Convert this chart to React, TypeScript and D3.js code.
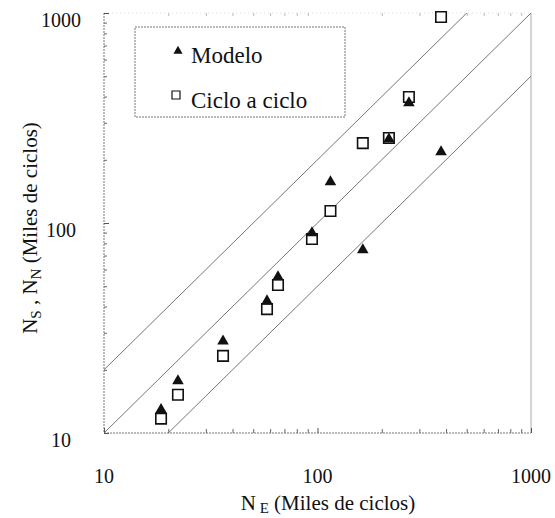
import React, { useEffect, useRef } from 'react';
import * as d3 from 'd3';

// N_E (x) values, thousands of cycles
const neValues = [18.5, 22.2, 36.1, 58, 65.3, 94.2, 115, 163, 216, 268, 379];
// Modelo (triangles)
const modeloValues = [12.9, 17.7, 27.4, 42.5, 55.3, 89.6, 157, 74.4, 251, 373, 218];
// Ciclo a ciclo (squares)
const cicloValues = [11.7, 15.2, 23.3, 38.9, 50.7, 83.9, 114, 240, 254, 398, 957];
// reference lines y = k * x
const lineFactors = [2, 1, 0.5];
const majorTicks = [10, 100, 1000];
const legendLabels = ['Modelo', 'Ciclo a ciclo'];

const left = 104, right = 531, top = 13, bottom = 433;
const x = d3.scaleLog().domain([10, 1000]).range([left, right]);
const y = d3.scaleLog().domain([10, 1000]).range([bottom, top]);

function App() {
  const ref = useRef<SVGGElement>(null);

  useEffect(() => {
    const svg = d3.select(ref.current);
    svg.selectAll('*').remove();

    const minorTicks: number[] = [];
    [10, 100].forEach(d => { for (let i = 2; i <= 9; i++) minorTicks.push(d * i); });

    svg.append('clipPath').attr('id', 'plot-clip')
      .append('rect').attr('x', left).attr('y', top)
      .attr('width', right - left).attr('height', bottom - top);

    // frame
    const frame = svg.append('g').attr('stroke', '#777').attr('stroke-width', 1).attr('fill', 'none');
    frame.append('line').attr('x1', left).attr('x2', left).attr('y1', top).attr('y2', bottom).attr('stroke-dasharray', '2 1');
    frame.append('line').attr('x1', left).attr('x2', right).attr('y1', bottom).attr('y2', bottom).attr('stroke-dasharray', '2 1');
    frame.append('line').attr('x1', right).attr('x2', right).attr('y1', top).attr('y2', bottom).attr('stroke', '#aaa');
    frame.append('line').attr('x1', left).attr('x2', right).attr('y1', top).attr('y2', top).attr('stroke', '#ddd').attr('stroke-dasharray', '1 3');

    // ticks via d3 axes (inward)
    const drawAxis = (axis: any, transform: string, color: string) => {
      const g = svg.append('g').attr('transform', transform).call(axis);
      g.select('.domain').remove();
      g.selectAll('text').remove();
      g.selectAll('line').attr('stroke', color);
    };
    drawAxis(d3.axisLeft(y).tickValues(majorTicks).tickSize(-5), `translate(${left},0)`, '#555');
    drawAxis(d3.axisLeft(y).tickValues(minorTicks).tickSize(-3), `translate(${left},0)`, '#666');
    drawAxis(d3.axisBottom(x).tickValues(majorTicks).tickSize(-5), `translate(0,${bottom})`, '#555');
    drawAxis(d3.axisBottom(x).tickValues(minorTicks).tickSize(-4), `translate(0,${bottom})`, '#666');
    drawAxis(d3.axisTop(x).tickValues(minorTicks).tickSize(-3), `translate(0,${top})`, '#bbb');

    // reference lines
    lineFactors.forEach(k => {
      const xs = [5, 2000];
      svg.append('path')
        .attr('clip-path', 'url(#plot-clip)')
        .attr('d', d3.line<number>().x(d => x(d)).y(d => y(d * k))(xs))
        .attr('fill', 'none').attr('stroke', '#666').attr('stroke-width', 0.9);
    });

    // squares
    const sq = d3.symbol().type(d3.symbolSquare).size(110);
    svg.append('g').selectAll('path').data(neValues).join('path')
      .attr('transform', (d, i) => `translate(${x(d)},${y(cicloValues[i])})`)
      .attr('d', sq())
      .attr('fill', 'white').attr('stroke', '#111').attr('stroke-width', 1.6);

    // triangles
    const tri = d3.symbol().type(d3.symbolTriangle).size(58);
    svg.append('g').selectAll('path').data(neValues).join('path')
      .attr('transform', (d, i) => `translate(${x(d)},${y(modeloValues[i])})`)
      .attr('d', tri())
      .attr('fill', '#111');

    // legend
    const lg = svg.append('g');
    lg.append('rect').attr('x', 135).attr('y', 27).attr('width', 210).attr('height', 90)
      .attr('fill', 'white').attr('stroke', '#777').attr('stroke-dasharray', '2 1');
    lg.append('path').attr('transform', 'translate(178,51)')
      .attr('d', d3.symbol().type(d3.symbolTriangle).size(36)()).attr('fill', '#111');
    lg.append('path').attr('transform', 'translate(176,95)')
      .attr('d', d3.symbol().type(d3.symbolSquare).size(64)())
      .attr('fill', 'white').attr('stroke', '#111').attr('stroke-width', 1.2);
  }, []);

  return (
    <svg width={555} height={518}
      style={{ position: 'absolute', left: 0, top: 0, background: 'white', fontFamily: 'Liberation Serif' }}>
      <g ref={ref} />
      <g fill="#111">
        {majorTicks.map(d => (
          <text key={'y' + d} x={61} y={y(d) + 14} textAnchor="middle" style={{ fontFamily: 'Liberation Serif', fontSize: 20 }}>{d}</text>
        ))}
        {majorTicks.map(d => (
          <text key={'x' + d} x={x(d)} y={483} textAnchor="middle" style={{ fontFamily: 'Liberation Serif', fontSize: 20 }}>{d}</text>
        ))}
        {legendLabels.map((d, i) => (
          <text key={d} x={191} y={63 + i * 45} style={{ fontFamily: 'Liberation Serif', fontSize: 23 }}>{d}</text>
        ))}
        <text x={328} y={510} textAnchor="middle" style={{ fontFamily: 'Liberation Serif', fontSize: 21 }}>
          <tspan>N</tspan>
          <tspan dy={3} style={{ fontSize: 15 }}> E</tspan>
          <tspan dy={-3}> (Miles de ciclos)</tspan>
        </text>
        <text transform="translate(37,228) rotate(-90)" textAnchor="middle" style={{ fontFamily: 'Liberation Serif', fontSize: 21 }}>
          <tspan>N</tspan>
          <tspan dy={4} style={{ fontSize: 15 }}>S</tspan>
          <tspan dy={-4}> , N</tspan>
          <tspan dy={4} style={{ fontSize: 15 }}>N</tspan>
          <tspan dy={-4}> (Miles de ciclos)</tspan>
        </text>
      </g>
    </svg>
  );
}

export default App;
